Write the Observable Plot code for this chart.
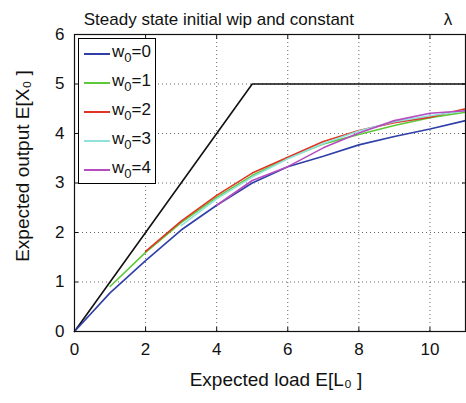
<!DOCTYPE html>
<html><head><meta charset="utf-8">
<script src="https://cdn.jsdelivr.net/npm/d3@7"></script>
<script src="https://cdn.jsdelivr.net/npm/@observablehq/plot@0.6"></script>
<style>
body{margin:0;background:#fff;font-family:"Liberation Sans",Arial,sans-serif;}
#wrap{position:relative;width:466px;height:403px;}
#legend{position:absolute;left:78px;top:38px;width:78px;height:146px;border:1px solid #000;background:#fff;box-sizing:border-box;}
.li{position:absolute;left:5px;height:20px;font-size:17px;color:#111;}
.li span.sw{position:absolute;left:0;top:11px;width:26px;height:0;border-top:2px solid;}
.li span.t{position:absolute;left:28px;top:0;white-space:nowrap;}
.li sub{font-size:13px;vertical-align:-5px;}
</style></head><body>
<div id="wrap"></div>
<script>
const xs = [0,1,2,3,4,5,6,7,8,9,10,11];
const upper = [[0,0],[5,5],[11,5]];
const names = ["0","1","2","3","4"];
const colors = ["#2f3fa8","#5cc83a","#e03424","#8fe3dc","#b54cc0"];
const w0 = [0,0.78,1.43,2.05,2.55,3.0,3.33,3.54,3.77,3.94,4.09,4.26];
const w1 = [null,0.91,1.6,2.2,2.71,3.15,3.5,3.79,3.98,4.16,4.32,4.43];
const w2 = [null,null,1.62,2.23,2.75,3.2,3.52,3.84,4.06,4.22,4.33,4.5];
const w3 = [null,null,null,2.14,2.68,3.12,3.49,3.8,4.05,4.24,4.36,4.46];
const w4 = [null,null,null,null,2.55,3.05,3.33,3.71,4.01,4.26,4.41,4.46];
const series = [w0,w1,w2,w3,w4];
const xTicks = [0,2,4,6,8,10];
const yTicks = [0,1,2,3,4,5,6];

const rows = [];
series.forEach((s,i)=>s.forEach((v,j)=>{ if(v!==null) rows.push({x:xs[j], y:v, k:names[i]}); }));
const ub = upper.map(([x,y])=>({x,y}));
const fmt = d3.format("d");
const gap = "\u00a0".repeat(19);

const chart = Plot.plot({
  width:466, height:403,
  marginLeft:74, marginRight:1, marginTop:34, marginBottom:72,
  style:{fontFamily:"Liberation Sans, Arial, sans-serif", fontSize:"17px", color:"#111", background:"#fff"},
  x:{domain:[0,11], label:null},
  y:{domain:[0,6], label:null},
  color:{domain:names, range:colors},
  marks:[
    Plot.gridX([2,4,6,8,10], {stroke:"#666", strokeOpacity:1, strokeDasharray:"1,3"}),
    Plot.gridY([1,2,3,4,5], {stroke:"#666", strokeOpacity:1, strokeDasharray:"1,3"}),
    Plot.axisX(xTicks, {anchor:"bottom", tickSize:-4, tickPadding:15, fontSize:17, tickFormat:fmt, label:null}),
    Plot.axisX(xTicks, {anchor:"top", tickSize:-4, tickFormat:()=>"", label:null}),
    Plot.axisY(yTicks, {anchor:"left", tickSize:-4, tickPadding:14, fontSize:17, tickFormat:fmt, label:null}),
    Plot.axisY(yTicks, {anchor:"right", tickSize:-4, tickFormat:()=>"", label:null}),
    Plot.line(ub, {x:"x", y:"y", stroke:"#111", strokeWidth:1.6}),
    Plot.line(rows, {x:"x", y:"y", z:"k", stroke:"k", strokeWidth:1.6}),
    Plot.frame({stroke:"#111", strokeWidth:1.2}),
    Plot.text(["Steady state initial wip and constant" + gap + "λ"], {frameAnchor:"top", dx:-2, dy:-22, fontSize:17}),
    Plot.text(["Expected load E[L₀ ]"], {frameAnchor:"bottom", dx:6, dy:54, fontSize:19}),
    Plot.text(["Expected output E[X₀ ]"], {frameAnchor:"left", textAnchor:"middle", dx:-52, dy:-17, rotate:-90, fontSize:19})
  ]
});
const wrap = document.getElementById("wrap");
wrap.appendChild(chart);
const lg = document.createElement("div"); lg.id="legend";
names.forEach((n,i)=>{
  const d=document.createElement("div"); d.className="li"; d.style.top=(3+i*29)+"px";
  d.innerHTML=`<span class="sw" style="border-color:${colors[i]}"></span><span class="t">w<sub>0</sub>=${n}</span>`;
  lg.appendChild(d);
});
wrap.appendChild(lg);
</script>
</body></html>
